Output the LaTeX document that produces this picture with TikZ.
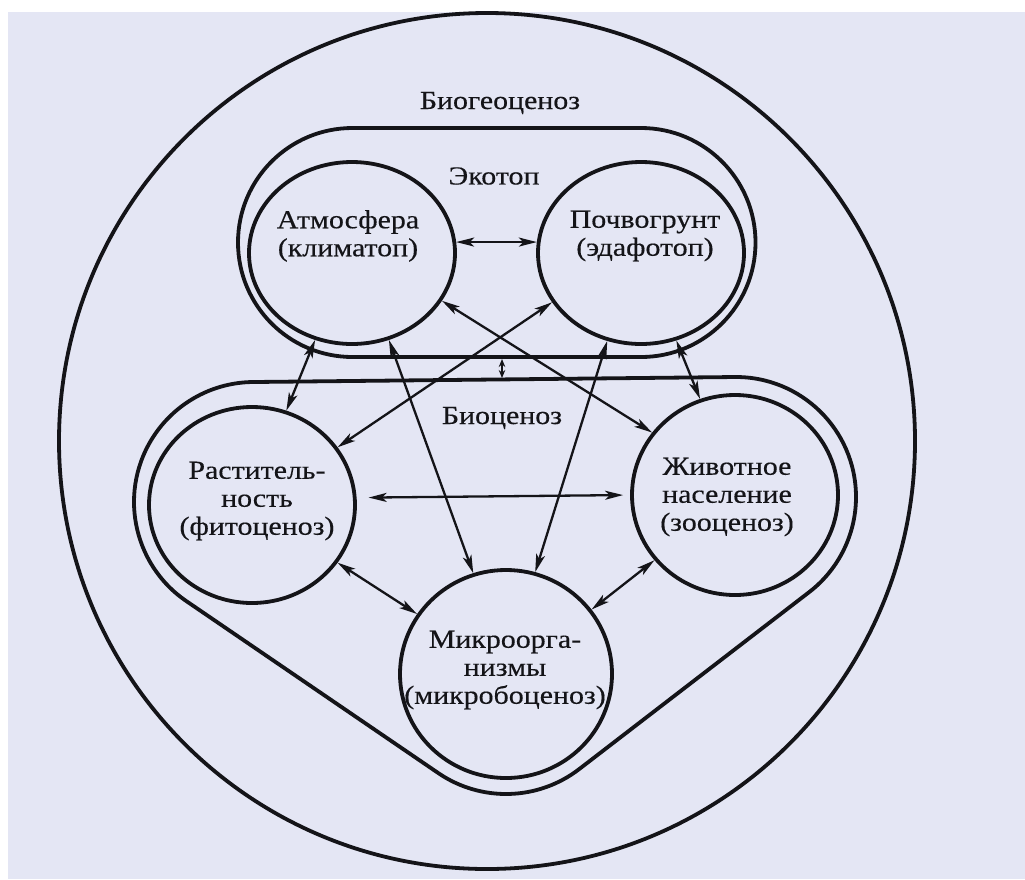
\documentclass[tikz,border=0pt]{standalone}
\usepackage{fontspec}
\setmainfont[FakeStretch=1.15,FakeBold=0.35]{Liberation Serif}
\usetikzlibrary{arrows.meta,shapes.geometric}
\definecolor{page}{RGB}{228,230,244}
\definecolor{ink}{RGB}{20,20,24}
\begin{document}
\begin{tikzpicture}[x=1pt,y=-1pt,
  band/.style={draw=ink,line width=3.8pt},
  ring/.style={ellipse,draw=ink,line width=3.8pt,inner sep=0pt},
  tipA/.tip={Stealth[length=18pt,width=9pt,inset=4.5pt]},
  link/.style={draw=ink,line width=2.3pt,tipA-tipA},
  lbl/.style={font=\fontsize{26}{28}\selectfont,align=center,inner sep=0pt,text=ink}]
\useasboundingbox (0,0) rectangle (1025,879);
\fill[white] (0,0) rectangle (1025,879);
\fill[page] (8,12) rectangle (1025,879);

% outer circle
\node[draw=ink,circle,line width=3.8pt,minimum size=856pt,inner sep=0pt] (bgc) at (487,441) {};
\node[lbl] (bgcT) at (500,103) {Биогеоценоз};

% ecotope band
\draw[band] (352.5,128) -- (641,128) arc[start angle=-90,end angle=90,radius=114.5]
  -- (352.5,357) arc[start angle=90,end angle=270,radius=114.5] -- cycle;
\node[lbl] (ecoT) at (494,176) {Экотоп};

% biocenosis band (hull of three circles)
\draw[band] (254,502) ++(269.406:120) -- ++(482,-5)
  arc[start angle=269.406,end angle=412.42,radius=120] -- ++(-230,177)
  arc[start angle=52.42,end angle=124.31,radius=120] -- ++(-252,-172)
  arc[start angle=124.31,end angle=269.406,radius=120] -- cycle;
\node[lbl] (bioT) at (502,418) {Биоценоз};

% circles
\node[ring,minimum width=206pt,minimum height=182pt] (atm) at (352,253) {};
\node[ring,minimum width=206pt,minimum height=182pt] (soil) at (641,253) {};
\node[ring,minimum width=206pt,minimum height=196pt] (plant) at (252,505) {};
\node[ring,minimum width=206pt,minimum height=200pt] (anim) at (735,495) {};
\node[ring,minimum width=212pt,minimum height=208pt] (micro) at (506,674) {};

\node[lbl] (atmT) at (348,236) {Атмосфера\\(климатоп)};
\node[lbl] (soilT) at (645,236) {Почвогрунт\\(эдафотоп)};
\node[lbl] (plantT) at (257,501) {Раститель-\\ность\\(фитоценоз)};
\node[lbl] (animT) at (727,497) {Животное\\население\\(зооценоз)};
\node[lbl] (microT) at (505,670) {Микроорга-\\низмы\\(микробоценоз)};

% links
\draw[link] (atm.6) -- (soil.174);
\draw[link] (atm.-28) -- (anim.143.6);
\draw[link] (soil.209) -- (plant.34);
\draw[link] (atm.247.4) -- (plant.70.7);
\draw[link] (atm.-67.3) -- (micro.108.8);
\draw[link] (soil.-111.8) -- (micro.74.4);
\draw[link] (soil.-68.2) -- (anim.110.3);
\draw[link,shorten <=12pt,shorten >=7pt] (plant.4) -- (anim.180);
\draw[link] (plant.-34.3) -- (micro.146.5);
\draw[link] (anim.219.1) -- (micro.37.3);

\coordinate (ecoB) at (502,359);
\coordinate (bioB) at (502,378);
\draw[draw=ink,line width=1.8pt,{Stealth[length=8pt,width=6.5pt]}-{Stealth[length=8pt,width=6.5pt]}] (ecoB) -- (bioB);
\end{tikzpicture}
\end{document}
